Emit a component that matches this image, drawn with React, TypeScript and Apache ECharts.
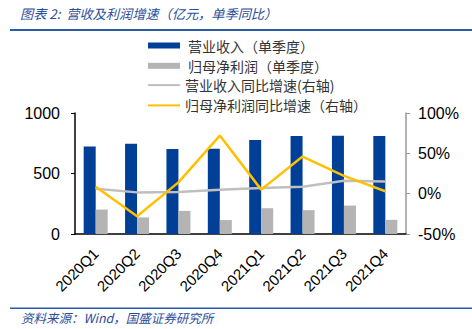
import React, { useEffect, useRef } from "react";
import * as echarts from "echarts";

const categories = ["2020Q1", "2020Q2", "2020Q3", "2020Q4", "2021Q1", "2021Q2", "2021Q3", "2021Q4"];
const revenue = [724, 746, 702, 705, 776, 809, 812, 809];
const netProfit = [202, 137, 191, 115, 213, 197, 235, 117];
const revenueYoY = [6, 1.6, 2, 5, 7, 8.6, 16, 15];
const profitYoY = [8.6, -28, 14, 72, 5, 46, 22, 3];
const leftTicks = { min: 0, max: 1000, interval: 500 };
const rightTicks = { min: -50, max: 100, interval: 50 };

const names = ["营业收入（单季度）", "归母净利润（单季度）", "营业收入同比增速(右轴)", "归母净利润同比增速（右轴）"];

export default function App() {
  const ref = useRef<HTMLDivElement>(null);
  useEffect(() => {
    if (!ref.current) return;
    const chart = echarts.init(ref.current, undefined, { renderer: "svg" });
    const font = "'Liberation Sans', Arial, sans-serif";
    const cjk = "'Noto Sans CJK SC', sans-serif";
    const legendText = { fontFamily: cjk, fontSize: 14, color: "#333", lineHeight: 16 };
    const legendRows = [37.5, 57.8, 77.1, 97.4];
    const mkLegend = (i: number) => ({
      orient: "vertical",
      align: "left",
      left: 148,
      top: legendRows[i],
      padding: 0,
      itemWidth: 32,
      itemHeight: i < 2 ? 6 : 2,
      icon: "rect",
      textStyle: i < 2 ? { ...legendText, padding: [0, 0, 0, 3] } : legendText,
      data: [names[i]],
    });
    chart.setOption({
      animation: false,
      textStyle: { fontFamily: font },
      grid: { left: 75, right: 66, top: 113, bottom: 95, containLabel: false },
      legend: [0, 1, 2, 3].map(mkLegend),
      graphic: [
        { type: "text", left: 20, top: 7, style: { text: "图表 2:  营收及利润增速（亿元，单季同比）", fontFamily: cjk, fontStyle: "italic", fontSize: 13.2, fill: "#2a4d9b" } },
        { type: "rect", shape: { x: 10, y: 29, width: 462, height: 2 }, style: { fill: "#2a5aa8" } },
        { type: "rect", shape: { x: 10, y: 307.5, width: 462, height: 1.5 }, style: { fill: "#2a5aa8" } },
        { type: "text", left: 21, top: 311, style: { text: "资料来源：Wind，国盛证券研究所", fontFamily: cjk, fontStyle: "italic", fontSize: 12.5, fill: "#2a4d9b" } },
      ],
      xAxis: {
        type: "category",
        data: categories,
        boundaryGap: true,
        axisLine: { lineStyle: { color: "#000", width: 1.5 } },
        axisTick: { inside: true, length: 3, lineStyle: { color: "#000" } },
        axisLabel: { rotate: 45, fontSize: 15, color: "#000", margin: 17, fontFamily: font },
      },
      yAxis: [
        {
          type: "value",
          ...leftTicks,
          splitLine: { show: false },
          axisLine: { show: true, lineStyle: { color: "#000", width: 1.5 } },
          axisTick: { show: true, length: 4, lineStyle: { color: "#000" } },
          axisLabel: { fontSize: 16, color: "#000", margin: 15, fontFamily: font, formatter: (v: number) => String(v) },
        },
        {
          type: "value",
          ...rightTicks,
          splitLine: { show: false },
          axisLine: { show: true, lineStyle: { color: "#999", width: 1.5 } },
          axisTick: { show: true, length: 4, lineStyle: { color: "#999" } },
          axisLabel: { fontSize: 16, color: "#000", margin: 12, fontFamily: font, formatter: "{value}%" },
        },
      ],
      series: [
        { name: names[0], type: "bar", data: revenue, barWidth: 12, barGap: "0%", itemStyle: { color: "#003f98" } },
        { name: names[1], type: "bar", data: netProfit, barWidth: 12, barGap: "0%", itemStyle: { color: "#b4b4b4" } },
        { name: names[2], type: "line", yAxisIndex: 1, data: revenueYoY, symbol: "none", lineStyle: { color: "#bfbfbf", width: 2.5 }, itemStyle: { color: "#bfbfbf" } },
        { name: names[3], type: "line", yAxisIndex: 1, data: profitYoY, symbol: "none", lineStyle: { color: "#ffc000", width: 2.5 }, itemStyle: { color: "#ffc000" } },
      ],
    });
    return () => chart.dispose();
  }, []);
  return <div ref={ref} style={{ width: 472, height: 329, position: "absolute", left: 0, top: 0, background: "#fff" }} />;
}
